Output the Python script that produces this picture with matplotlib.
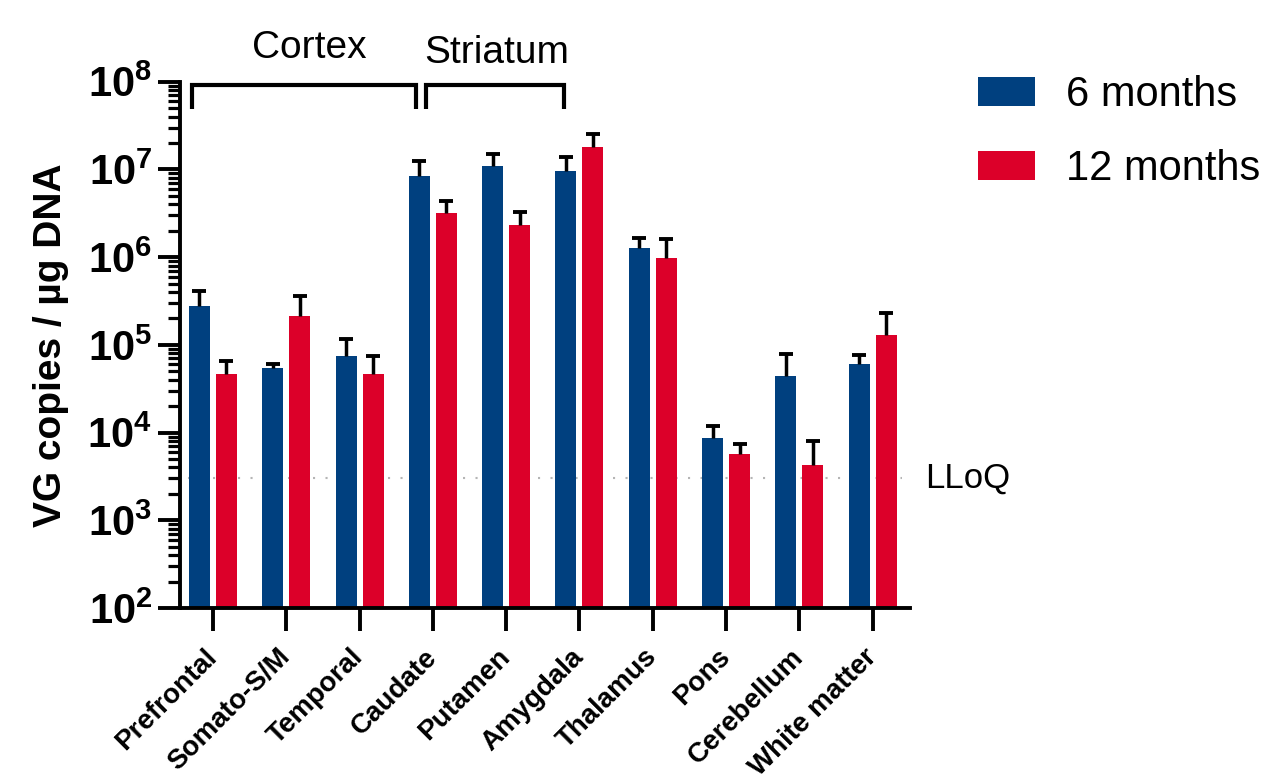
import matplotlib
matplotlib.use("Agg")
import matplotlib.pyplot as plt
import numpy as np

plt.rcParams['font.family'] = ['Liberation Sans', 'DejaVu Sans']
plt.rcParams['mathtext.fontset'] = 'custom'
plt.rcParams['mathtext.rm'] = 'Liberation Sans'
plt.rcParams['mathtext.bf'] = 'Liberation Sans:bold'

# Data (VG copies / ug DNA)
regions = ['Prefrontal', 'Somato-S/M', 'Temporal', 'Caudate', 'Putamen',
           'Amygdala', 'Thalamus', 'Pons', 'Cerebellum', 'White matter']
m6 = [2.75e5, 5.4e4, 7.4e4, 8.4e6, 1.09e7, 9.6e6, 1.26e6, 8.6e3, 4.45e4, 6.0e4]
m6_top = [4.07e5, 6.0e4, 1.18e5, 1.25e7, 1.5e7, 1.37e7, 1.66e6, 1.19e4, 7.9e4, 7.6e4]
m12 = [4.6e4, 2.12e5, 4.7e4, 3.15e6, 2.3e6, 1.8e7, 9.7e5, 5.7e3, 4.3e3, 1.28e5]
m12_top = [6.46e4, 3.59e5, 7.4e4, 4.4e6, 3.26e6, 2.53e7, 1.6e6, 7.45e3, 8.1e3, 2.33e5]
lloq = 3000
series_labels = ['6 months', '12 months']

blue = '#00407F'
red = '#DC0029'

W, H = 1263, 777
fig = plt.figure(figsize=(W / 100, H / 100), dpi=100)
ax = fig.add_axes([180 / W, 1 - 608 / H, 730 / W, (608 - 81.7) / H])

x = np.arange(len(regions))
bw = 0.286
off = 0.184
ax.set_yscale('log')

b1 = ax.bar(x - off, np.array(m6) - 100, bw, bottom=100, color=blue, zorder=2,
            label=series_labels[0])
b2 = ax.bar(x + off, np.array(m12) - 100, bw, bottom=100, color=red, zorder=2,
            label=series_labels[1])

# upper error bars only
for xs, lo, hi in [(x - off, m6, m6_top), (x + off, m12, m12_top)]:
    ax.vlines(xs, lo, hi, color='black', lw=2.5, zorder=3)
    ax.plot(xs, hi, ls='none', marker='_', ms=10, mew=2.8, color='black', zorder=3)

# LLoQ line
ax.axhline(lloq, xmin=0.011, xmax=0.989, color='#b5b5b5', lw=1.5,
           ls=(0, (1, 5)), zorder=1)
ax.text(1.021, lloq, 'LLoQ', transform=ax.get_yaxis_transform(),
        fontsize=25, va='center', ha='left')

ax.set_xlim(-0.45, 9.51)
ax.set_ylim(1e2, 1e8)

# axes styling
for s in ['top', 'right']:
    ax.spines[s].set_visible(False)
for s in ['left', 'bottom']:
    ax.spines[s].set_linewidth(2.8)

ax.set_yticks([10.0 ** k for k in range(2, 9)])
ax.set_yticklabels([r'$\mathbf{10^{%d}}$' % k for k in range(2, 9)], fontsize=30)
ax.tick_params(axis='y', which='major', length=16, width=2.8, pad=4)
ax.tick_params(axis='y', which='minor', length=9, width=2.3)

ax.set_xticks(x)
ax.set_xticklabels(regions, fontsize=20, fontweight='bold', rotation=45,
                   ha='right', va='center', rotation_mode='anchor')
ax.tick_params(axis='x', length=16.5, width=2.8, pad=16)

ax.set_ylabel('VG copies / µg DNA', fontsize=28, fontweight='bold')
ax.yaxis.set_label_coords(-0.152, 0.5)

# group brackets
y_top, y_leg = 10 ** 7.96, 10 ** 7.69
for x0, x1 in [(-0.293, 2.776), (2.912, 4.795)]:
    ax.plot([x0, x0, x1, x1], [y_leg, y_top, y_top, y_leg], color='black',
            lw=3, clip_on=False, solid_joinstyle='miter', solid_capstyle='butt')
ax.text(1.317, 10 ** 8.27, 'Cortex', fontsize=28, ha='center', va='baseline')
ax.text(3.868, 10 ** 8.213, 'Striatum', fontsize=28, ha='center', va='baseline')

fig.legend(handles=[b1, b2], loc='upper left',
           bbox_to_anchor=(978 / W, 1 - 75 / H), frameon=False, fontsize=30,
           handlelength=1.36, handleheight=0.69, handletextpad=0.76,
           labelspacing=0.82, borderpad=0, borderaxespad=0)

fig.savefig('out.png', dpi=100)
